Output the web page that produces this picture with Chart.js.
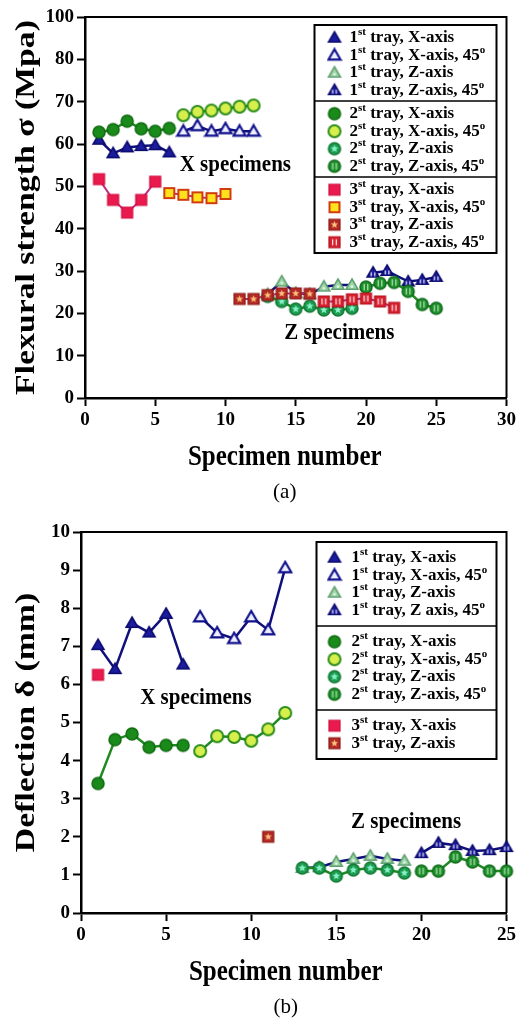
<!DOCTYPE html>
<html>
<head>
<meta charset="utf-8">
<script src="https://cdn.jsdelivr.net/npm/chart.js@4.4.0/dist/chart.umd.min.js"></script>
<style>
  html, body { margin: 0; padding: 0; background: #fff; }
  body { width: 519px; height: 1018px; overflow: hidden; position: relative; }
  .panel { position: absolute; left: 0; width: 519px; }
  #panelA { top: 0; height: 515px; }
  #panelB { top: 515px; height: 503px; }
</style>
</head>
<body>
<div class="panel" id="panelA"><canvas id="chartA"></canvas></div>
<div class="panel" id="panelB"><canvas id="chartB"></canvas></div>
<script>
// ---- data ----
// specimen numbers for each group
var specX = [1, 2, 3, 4, 5, 6];
var specX45 = [7, 8, 9, 10, 11, 12];
var specZ = [13, 14, 15, 16, 17, 18, 19];
var specZ45 = [20, 21, 22, 23, 24, 25];
var specT3X = [1, 2, 3, 4, 5];
var specT3X45 = [6, 7, 8, 9, 10];
var specT3Z = [11, 12, 13, 14, 15, 16];
var specT3Z45 = [17, 18, 19, 20, 21, 22];
var specT1Z45a = [20.5, 21.5, 23, 24, 25];

// (a) flexural strength (MPa); the top tick of the original is printed "100"
var flexTickValues = [0, 10, 20, 30, 40, 50, 60, 70, 80, 90];
var flexTickLabels = ['0', '10', '20', '30', '40', '50', '60', '70', '80', '100'];
var flexT1X = [61.0, 57.8, 59.2, 59.5, 59.7, 58.0];
var flexT1X45 = [63.0, 64.3, 63.0, 63.6, 63.0, 63.0];
var flexT1Z = [24.5, 27.5, 24.8, 24.5, 26.3, 26.7, 26.7];
var flexT1Z45 = [29.6, 30.0, 27.5, 27.9, 28.6];
var flexT2X = [62.8, 63.4, 65.4, 63.6, 63.0, 63.7];
var flexT2X45 = [66.8, 67.6, 67.9, 68.4, 68.8, 69.1];
var flexT2Z = [24.0, 22.8, 21.0, 21.7, 20.8, 20.8, 21.2];
var flexT2Z45 = [26.2, 27.1, 27.3, 25.2, 22.1, 21.2];
var flexT3X = [51.7, 46.8, 43.8, 46.8, 51.1];
var flexT3X45 = [48.4, 48.0, 47.4, 47.2, 48.2];
var flexT3Z = [23.4, 23.4, 24.3, 24.7, 24.7, 24.6];
var flexT3Z45 = [22.8, 22.8, 23.3, 23.5, 22.8, 21.3];

// (b) deflection (mm)
var deflT1X = [7.03, 6.40, 7.61, 7.36, 7.85, 6.52];
var deflT1X45 = [7.77, 7.35, 7.20, 7.77, 7.43, 9.06];
var deflT1Z = [1.18, 1.20, 1.34, 1.42, 1.50, 1.42, 1.37];
var deflT1Z45 = [1.57, 1.84, 1.78, 1.63, 1.65, 1.73];
var deflT2X = [3.40, 4.55, 4.70, 4.35, 4.40, 4.40];
var deflT2X45 = [4.25, 4.64, 4.62, 4.52, 4.82, 5.25];
var deflT2Z = [1.18, 1.18, 0.97, 1.13, 1.18, 1.13, 1.05];
var deflT2Z45 = [1.10, 1.10, 1.47, 1.34, 1.10, 1.10];
var deflT3X = [6.25];
var deflT3Z = [2.0];

var SERIF = '"Liberation Serif", "Times New Roman", serif';
Chart.defaults.font.family = SERIF;
Chart.defaults.color = '#000';

var NAVY = '#10107c', GREEN = '#1f8a1f', MAGENTA = '#c22e7e';

// ---- marker images ----
function drawStar(ctx, cx, cy, R, color) {
  ctx.beginPath();
  for (var k = 0; k < 10; k++) {
    var rr = k % 2 === 0 ? R : R * 0.45;
    var a = -Math.PI / 2 + k * Math.PI / 5;
    var px = cx + rr * Math.cos(a), py = cy + rr * Math.sin(a);
    if (k === 0) ctx.moveTo(px, py); else ctx.lineTo(px, py);
  }
  ctx.closePath();
  ctx.fillStyle = color;
  ctx.fill();
}

function makeMarker(shape, size, fill, stroke, lw, inner, innerColor) {
  var s = size + 4;
  var c = document.createElement('canvas');
  c.width = s; c.height = s;
  var ctx = c.getContext('2d');
  var m = s / 2, r = size / 2;
  ctx.beginPath();
  if (shape === 'triangle') {
    ctx.moveTo(m, m - r);
    ctx.lineTo(m + r, m + r * 0.72);
    ctx.lineTo(m - r, m + r * 0.72);
    ctx.closePath();
  } else if (shape === 'circle') {
    ctx.arc(m, m, r, 0, Math.PI * 2);
  } else {
    ctx.rect(m - r, m - r, size, size);
  }
  ctx.fillStyle = fill;
  ctx.fill();
  ctx.lineWidth = lw;
  ctx.strokeStyle = stroke;
  ctx.stroke();
  var cy = shape === 'triangle' ? m + r * 0.25 : m;
  if (inner === 'star') drawStar(ctx, m, cy, r * 0.68, innerColor);
  if (inner === 'dot') drawStar(ctx, m, cy, r * 0.35, innerColor);
  if (inner === 'bars') {
    ctx.strokeStyle = innerColor;
    ctx.lineWidth = 1.1;
    var h = shape === 'triangle' ? r * 0.35 : r * 0.55;
    [-1.8, 1.8].forEach(function (dx) {
      ctx.beginPath();
      ctx.moveTo(m + dx, cy - h);
      ctx.lineTo(m + dx, cy + h);
      ctx.stroke();
    });
  }
  return c;
}

var markers = {
  t1X: makeMarker('triangle', 12, '#1c1c9e', '#0a0a6e', 1.5),
  t1X45: makeMarker('triangle', 12, '#eef0ff', '#12128c', 2.2),
  t1Z: makeMarker('triangle', 12, '#9dd6a6', '#5e9e70', 1.5, 'dot', '#e4f6e8'),
  t1Z45: makeMarker('triangle', 12, '#1c1c9e', '#0a0a6e', 1.5, 'bars', '#ffffff'),
  t2X: makeMarker('circle', 12, '#1a8a1a', '#0f6a10', 1.5),
  t2X45: makeMarker('circle', 12, '#d6ef4c', '#2c8c1c', 2),
  t2Z: makeMarker('circle', 12, '#1c9a4e', '#137836', 1.5, 'star', '#86f2c6'),
  t2Z45: makeMarker('circle', 12, '#1f8e2c', '#0f6c1a', 1.5, 'bars', '#c4f2c0'),
  t3X: makeMarker('square', 11, '#ea1a4e', '#cf1040', 1.2),
  t3X45: makeMarker('square', 10, '#ffe21c', '#d03c10', 2),
  t3Z: makeMarker('square', 11, '#b22a26', '#8e1a16', 1.2, 'star', '#ffc27a'),
  t3Z45: makeMarker('square', 11, '#d8202e', '#b0101e', 1.2, 'bars', '#ffffff')
};

function series(label, tray, xs, ys, marker, lineColor) {
  return {
    label: label,
    tray: tray,
    data: xs.map(function (x, i) { return { x: x, y: ys[i] }; }),
    pointStyle: marker,
    pointRadius: 6,
    pointHoverRadius: 6,
    borderColor: lineColor,
    backgroundColor: lineColor,
    borderWidth: tray === 3 ? 2 : 2.5,
    showLine: xs.length > 1,
    tension: 0,
    order: 4 - tray,
    clip: false
  };
}

// ---- plugins ----
function drawRich(ctx, text, x, y, size) {
  var parts = text.split('^');
  for (var i = 0; i < parts.length; i++) {
    var sup = i % 2 === 1;
    ctx.font = 'bold ' + (sup ? Math.round(size * 0.62) : size) + 'px ' + SERIF;
    ctx.fillText(parts[i], x, sup ? y - size * 0.3 : y);
    x += ctx.measureText(parts[i]).width;
  }
}

// text stretched along (sx) and across (sy) its own direction, like the tall original figure
function drawStretched(ctx, text, x, y, font, sx, sy, angle) {
  ctx.save();
  ctx.translate(x, y);
  if (angle) ctx.rotate(angle);
  ctx.scale(sx, sy);
  ctx.font = font;
  ctx.fillText(text, 0, 0);
  ctx.restore();
}

function makeLegend(o) {
  return {
    id: 'groupLegend',
    afterDatasetsDraw: function (chart) {
      var ctx = chart.ctx, area = chart.chartArea;
      var groups = [];
      chart.data.datasets.forEach(function (ds) {
        var g = groups[groups.length - 1];
        if (!g || g.tray !== ds.tray) { g = { tray: ds.tray, items: [] }; groups.push(g); }
        g.items.push(ds);
      });
      var heights = groups.map(function (g) { return o.padTop + g.items.length * o.rowH + o.padBottom; });
      var total = heights.reduce(function (a, b) { return a + b; }, 0);
      var left = area.right - o.right - o.width;
      var top = area.top + o.top;
      var y = top;
      ctx.save();
      ctx.fillStyle = '#fff';
      ctx.fillRect(left, top, o.width, total);
      ctx.textBaseline = 'middle';
      ctx.textAlign = 'left';
      groups.forEach(function (g, gi) {
        g.items.forEach(function (ds, i) {
          var cy = y + o.padTop + o.rowH * (i + 0.5);
          var img = ds.pointStyle;
          ctx.drawImage(img, left + o.markerX - img.width / 2, cy - img.height / 2);
          ctx.fillStyle = '#000';
          drawRich(ctx, ds.label, left + o.textX, cy, o.fontSize);
        });
        y += heights[gi];
        if (gi < groups.length - 1) {
          ctx.strokeStyle = '#000';
          ctx.lineWidth = 1.5;
          ctx.beginPath();
          ctx.moveTo(left, y);
          ctx.lineTo(left + o.width, y);
          ctx.stroke();
        }
      });
      ctx.strokeStyle = '#000';
      ctx.lineWidth = 2;
      ctx.strokeRect(left, top, o.width, total);
      ctx.restore();
    }
  };
}

function makeNotes(notes, xTitle, yTitle, caption, shiftX) {
  return {
    id: 'notes',
    afterDatasetsDraw: function (chart) {
      var ctx = chart.ctx, sx = chart.scales.x, sy = chart.scales.y, area = chart.chartArea;
      ctx.save();
      ctx.fillStyle = '#000';
      ctx.textAlign = 'center';
      ctx.textBaseline = 'middle';
      notes.forEach(function (n) {
        drawStretched(ctx, n.text, sx.getPixelForValue(n.x), sy.getPixelForValue(n.y), 'bold 21px ' + SERIF, 1, 1.12);
      });
      var cx = (area.left + area.right) / 2 + shiftX;
      drawStretched(ctx, xTitle, cx, area.bottom + 60, 'bold 25px ' + SERIF, 1, 1.15);
      drawStretched(ctx, yTitle, 27, (area.top + area.bottom) / 2, 'bold 27px ' + SERIF, 1.25, 1, -Math.PI / 2);
      ctx.font = '21px ' + SERIF;
      ctx.fillText(caption, cx, area.bottom + 94);
      ctx.restore();
    }
  };
}

var frame = {
  id: 'frame',
  beforeDatasetsDraw: function (chart) {
    var ctx = chart.ctx, a = chart.chartArea;
    ctx.save();
    ctx.strokeStyle = '#000';
    ctx.lineWidth = 2;
    ctx.beginPath();
    ctx.moveTo(a.left, a.top);
    ctx.lineTo(a.right, a.top);
    ctx.lineTo(a.right, a.bottom);
    ctx.stroke();
    ctx.restore();
  }
};

function buildOptions(cfg) {
  return {
    responsive: true,
    maintainAspectRatio: false,
    animation: false,
    events: [],
    layout: { autoPadding: false, padding: { top: 17, right: cfg.padRight, bottom: 0, left: 0 } },
    scales: {
      x: {
        type: 'linear',
        min: 0,
        max: cfg.xMax,
        afterFit: function (s) { s.height = cfg.xHeight; },
        ticks: { stepSize: 5, padding: 3, autoSkip: false, maxRotation: 0, font: { size: 19, weight: 'bold' }, color: '#000' },
        grid: { drawOnChartArea: false, tickLength: 8, tickWidth: 2, tickColor: '#000' },
        border: { color: '#000', width: 2.5 }
      },
      y: {
        min: 0,
        max: cfg.yMax,
        afterFit: function (s) { s.width = cfg.yWidth; },
        ticks: {
          stepSize: cfg.yStep,
          padding: 3,
          autoSkip: false,
          font: { size: 19, weight: 'bold' },
          color: '#000',
          callback: cfg.yLabel
        },
        grid: { drawOnChartArea: false, tickLength: 8, tickWidth: 2, tickColor: '#000' },
        border: { color: '#000', width: 2.5 }
      }
    },
    plugins: { legend: { display: false }, tooltip: { enabled: false } }
  };
}

// ---- chart (a) ----
var datasetsA = [
  series('1^st^ tray, X-axis', 1, specX, flexT1X, markers.t1X, NAVY),
  series('1^st^ tray, X-axis, 45^o^', 1, specX45, flexT1X45, markers.t1X45, NAVY),
  series('1^st^ tray, Z-axis', 1, specZ, flexT1Z, markers.t1Z, NAVY),
  series('1^st^ tray, Z-axis, 45^o^', 1, specT1Z45a, flexT1Z45, markers.t1Z45, NAVY),
  series('2^st^ tray, X-axis', 2, specX, flexT2X, markers.t2X, GREEN),
  series('2^st^ tray, X-axis, 45^o^', 2, specX45, flexT2X45, markers.t2X45, GREEN),
  series('2^st^ tray, Z-axis', 2, specZ, flexT2Z, markers.t2Z, GREEN),
  series('2^st^ tray, Z-axis, 45^o^', 2, specZ45, flexT2Z45, markers.t2Z45, GREEN),
  series('3^st^ tray, X-axis', 3, specT3X, flexT3X, markers.t3X, MAGENTA),
  series('3^st^ tray, X-axis, 45^o^', 3, specT3X45, flexT3X45, markers.t3X45, MAGENTA),
  series('3^st^ tray, Z-axis', 3, specT3Z, flexT3Z, markers.t3Z, MAGENTA),
  series('3^st^ tray, Z-axis, 45^o^', 3, specT3Z45, flexT3Z45, markers.t3Z45, MAGENTA)
];

new Chart(document.getElementById('chartA'), {
  type: 'line',
  data: { datasets: datasetsA },
  options: buildOptions({
    padRight: 9, xMax: 30, xHeight: 117, yWidth: 85, yMax: 90, yStep: 10,
    yLabel: function (v) { return flexTickLabels[flexTickValues.indexOf(v)]; }
  }),
  plugins: [
    frame,
    makeLegend({ right: 10, top: 8, width: 182, rowH: 17.5, padTop: 4, padBottom: 2, markerX: 20, textX: 35, fontSize: 17 }),
    makeNotes([
      { text: 'X specimens', x: 10.7, y: 55.1 },
      { text: 'Z specimens', x: 18.1, y: 15.4 }
    ], 'Specimen number', 'Flexural strength σ (Mpa)', '(a)', -11)
  ]
});

// ---- chart (b) ----
var datasetsB = [
  series('1^st^ tray, X-axis', 1, specX, deflT1X, markers.t1X, NAVY),
  series('1^st^ tray, X-axis, 45^o^', 1, specX45, deflT1X45, markers.t1X45, NAVY),
  series('1^st^ tray, Z-axis', 1, specZ, deflT1Z, markers.t1Z, NAVY),
  series('1^st^ tray, Z axis, 45^o^', 1, specZ45, deflT1Z45, markers.t1Z45, NAVY),
  series('2^st^ tray, X-axis', 2, specX, deflT2X, markers.t2X, GREEN),
  series('2^st^ tray, X-axis, 45^o^', 2, specX45, deflT2X45, markers.t2X45, GREEN),
  series('2^st^ tray, Z-axis', 2, specZ, deflT2Z, markers.t2Z, GREEN),
  series('2^st^ tray, Z-axis, 45^o^', 2, specZ45, deflT2Z45, markers.t2Z45, GREEN),
  series('3^st^ tray, X-axis', 3, [1], deflT3X, markers.t3X, MAGENTA),
  series('3^st^ tray, Z-axis', 3, [11], deflT3Z, markers.t3Z, MAGENTA)
];

new Chart(document.getElementById('chartB'), {
  type: 'line',
  data: { datasets: datasetsB },
  options: buildOptions({
    padRight: 12, xMax: 25, xHeight: 105, yWidth: 81, yMax: 10, yStep: 1,
    yLabel: function (v) { return String(v); }
  }),
  plugins: [
    frame,
    makeLegend({ right: 10, top: 10, width: 180, rowH: 17.5, padTop: 7, padBottom: 7, markerX: 18, textX: 35, fontSize: 17 }),
    makeNotes([
      { text: 'X specimens', x: 6.75, y: 5.64 },
      { text: 'Z specimens', x: 19.1, y: 2.39 }
    ], 'Specimen number', 'Deflection δ (mm)', '(b)', -8)
  ]
});
</script>
</body>
</html>
